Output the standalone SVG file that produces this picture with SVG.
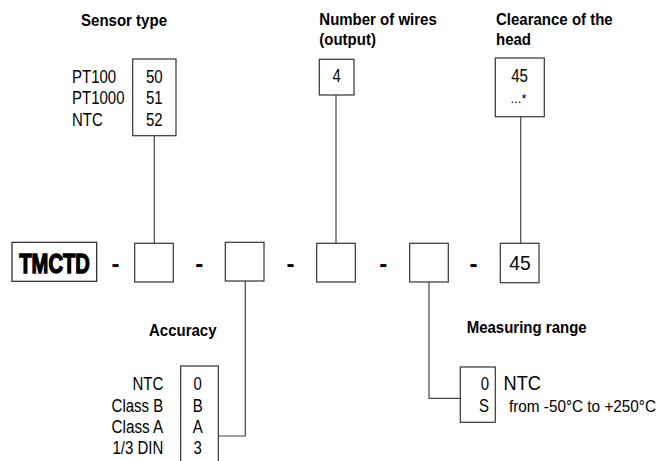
<svg xmlns="http://www.w3.org/2000/svg" width="672" height="461" viewBox="0 0 672 461">
<style>
text{font-family:"Liberation Sans",Arial,sans-serif;fill:#000}
.h{font-weight:bold;font-size:17px}
.t{font-size:17.5px}
.box{fill:#fff;stroke:#333;stroke-width:1.2}
.dash{font-weight:bold;font-size:24px;text-anchor:middle}
.c{text-anchor:middle}
.r{text-anchor:end}
#connectors path{fill:none;stroke:#444;stroke-width:1.2}
</style>
<rect width="672" height="461" fill="#fff"/>

<g id="connectors">
<path d="M154.3 135.7V243.3"/>
<path d="M336 95V243.3"/>
<path d="M520.7 116.7V243.3"/>
<path d="M245.3 281V436H218.3"/>
<path d="M429 282V398.3H460.3"/>
</g>

<g id="sensor-type">
<text class="h" x="81" y="26" textLength="86" lengthAdjust="spacingAndGlyphs">Sensor type</text>
<rect class="box" x="132.7" y="59" width="43.3" height="76.7"/>
<text class="t" x="72" y="82.7" textLength="44.2" lengthAdjust="spacingAndGlyphs">PT100</text>
<text class="t" x="72" y="104.2" textLength="52.5" lengthAdjust="spacingAndGlyphs">PT1000</text>
<text class="t" x="72" y="125.7" textLength="30.8" lengthAdjust="spacingAndGlyphs">NTC</text>
<text class="t c" x="154.3" y="82.7" textLength="16.7" lengthAdjust="spacingAndGlyphs">50</text>
<text class="t c" x="154.3" y="104.2" textLength="16.7" lengthAdjust="spacingAndGlyphs">51</text>
<text class="t c" x="154.3" y="125.7" textLength="16.7" lengthAdjust="spacingAndGlyphs">52</text>
</g>

<g id="wires">
<text class="h" x="319.3" y="25" textLength="117.5" lengthAdjust="spacingAndGlyphs">Number of wires</text>
<text class="h" x="319.3" y="45" textLength="56.6" lengthAdjust="spacingAndGlyphs">(output)</text>
<rect class="box" x="319.3" y="59.3" width="34.7" height="35.7"/>
<text class="t c" x="336.7" y="82.3" textLength="8.3" lengthAdjust="spacingAndGlyphs">4</text>
</g>

<g id="clearance">
<text class="h" x="496" y="25" textLength="116.7" lengthAdjust="spacingAndGlyphs">Clearance of the</text>
<text class="h" x="496" y="45" textLength="35" lengthAdjust="spacingAndGlyphs">head</text>
<rect class="box" x="495.3" y="58" width="49" height="58.7"/>
<text class="t c" x="519.5" y="82.3" textLength="16.7" lengthAdjust="spacingAndGlyphs">45</text>
<text x="510.5" y="102.5" font-size="13" textLength="16" lengthAdjust="spacingAndGlyphs">...*</text>
</g>

<g id="code-row">
<rect x="12" y="242.3" width="84.7" height="39" fill="#fff" stroke="#222" stroke-width="1.2"/>
<text transform="translate(19.3,272.7) scale(0.72,1)" x="0" y="0" font-size="28" font-weight="bold" stroke="#000" stroke-width="1.4">TMCTD</text>
<text class="dash" x="115.5" y="272">-</text>
<rect class="box" x="134.7" y="243.3" width="38.6" height="38.7"/>
<text class="dash" x="199.3" y="272">-</text>
<rect class="box" x="225.3" y="242.3" width="38.7" height="38.7"/>
<text class="dash" x="290.5" y="272">-</text>
<rect class="box" x="316.7" y="243.3" width="38.6" height="38.7"/>
<text class="dash" x="383.2" y="272">-</text>
<rect class="box" x="409.7" y="243.3" width="38.6" height="38.7"/>
<text class="dash" x="473.5" y="272">-</text>
<rect class="box" x="500.3" y="243.3" width="38.7" height="39.4"/>
<text x="520" y="270" font-size="21" text-anchor="middle" textLength="21.4" lengthAdjust="spacingAndGlyphs">45</text>
</g>

<g id="accuracy">
<text class="h" x="149" y="335.7" textLength="67.5" lengthAdjust="spacingAndGlyphs">Accuracy</text>
<rect class="box" x="180.7" y="366" width="37.6" height="110"/>
<text class="t r" x="163.3" y="390" textLength="30.8" lengthAdjust="spacingAndGlyphs">NTC</text>
<text class="t r" x="163.3" y="411.7" textLength="51.7" lengthAdjust="spacingAndGlyphs">Class B</text>
<text class="t r" x="163.3" y="433.3" textLength="51.7" lengthAdjust="spacingAndGlyphs">Class A</text>
<text class="t r" x="163.3" y="454.3" textLength="50.9" lengthAdjust="spacingAndGlyphs">1/3 DIN</text>
<text class="t c" x="197.7" y="390" textLength="8.3" lengthAdjust="spacingAndGlyphs">0</text>
<text class="t c" x="197.7" y="411.7" textLength="10" lengthAdjust="spacingAndGlyphs">B</text>
<text class="t c" x="197.7" y="433.3" textLength="10" lengthAdjust="spacingAndGlyphs">A</text>
<text class="t c" x="197.7" y="454.3" textLength="8.3" lengthAdjust="spacingAndGlyphs">3</text>
</g>

<g id="measuring-range">
<text class="h" x="466.7" y="332.7" textLength="120" lengthAdjust="spacingAndGlyphs">Measuring range</text>
<rect class="box" x="460.3" y="367" width="35" height="55.3"/>
<text class="t r" x="489" y="390" textLength="8.3" lengthAdjust="spacingAndGlyphs">0</text>
<text class="t r" x="489" y="411.7" textLength="10" lengthAdjust="spacingAndGlyphs">S</text>
<text x="503.5" y="390" font-size="19.5" textLength="37.4" lengthAdjust="spacingAndGlyphs">NTC</text>
<text x="509" y="411.7" font-size="17" textLength="147" lengthAdjust="spacingAndGlyphs">from -50°C to +250°C</text>
</g>
</svg>
